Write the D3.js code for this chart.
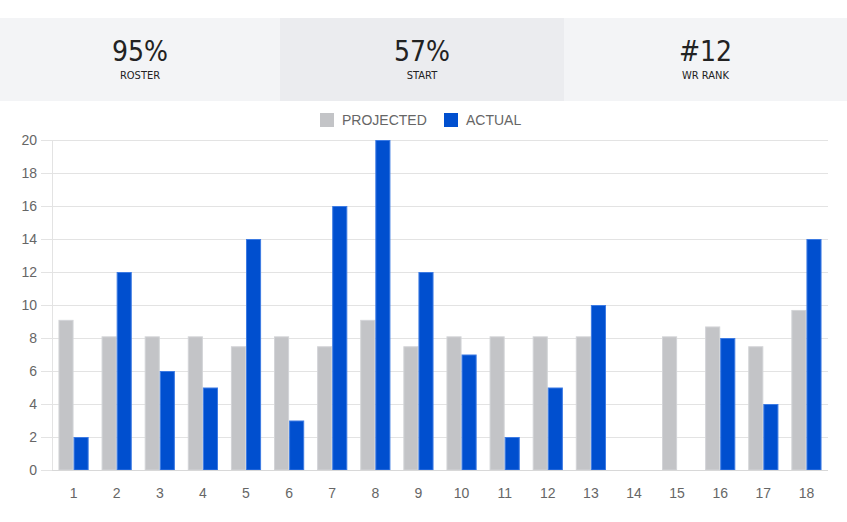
<!DOCTYPE html>
<html>
<head>
<meta charset="utf-8">
<script src="https://cdn.jsdelivr.net/npm/d3@7"></script>
<style>
  body { margin: 0; background: #fff; }
  #chart { display: block; }
</style>
</head>
<body>
<svg id="chart"></svg>
<script>
// header stats
var statValues = ["95%", "57%", "#12"];
var statLabels = ["ROSTER", "START", "WR RANK"];

// weekly data
var weeks = ["1","2","3","4","5","6","7","8","9","10","11","12","13","14","15","16","17","18"];
var projected = [9.1, 8.1, 8.1, 8.1, 7.5, 8.1, 7.5, 9.1, 7.5, 8.1, 8.1, 8.1, 8.1, 0, 8.1, 8.7, 7.5, 9.7];
var actual = [2, 12, 6, 5, 14, 3, 16, 20, 12, 7, 2, 5, 10, 0, 0, 8, 4, 14];
var seriesNames = ["PROJECTED", "ACTUAL"];
var yTicks = [0, 2, 4, 6, 8, 10, 12, 14, 16, 18, 20];

var w = 847, h = 522;
var fills = ["#c3c4c7", "#004fcf"];
var strokes = ["#d3d4d7", "#3d7be3"];

var svg = d3.select("#chart").attr("width", w).attr("height", h);

// header panels
var panelEdges = [0, 280, 564, w];
var panelBg = ["#f3f4f6", "#ebecef", "#f3f4f6"];
var condensed = "'DejaVu Sans Condensed', 'DejaVu Sans', sans-serif";
statValues.forEach(function(v, i) {
	var x0 = panelEdges[i], x1 = panelEdges[i + 1];
	svg.append("rect")
		.attr("x", x0).attr("y", 18)
		.attr("width", x1 - x0).attr("height", 83)
		.attr("fill", panelBg[i]);
	svg.append("text")
		.attr("x", (x0 + x1) / 2).attr("y", 61)
		.attr("text-anchor", "middle")
		.attr("font-family", condensed)
		.attr("font-stretch", "condensed")
		.attr("font-size", 28)
		.attr("fill", "#222")
		.text(v);
	svg.append("text")
		.attr("x", (x0 + x1) / 2).attr("y", 79)
		.attr("text-anchor", "middle")
		.attr("font-family", condensed)
		.attr("font-stretch", "condensed")
		.attr("font-size", 11)
		.attr("fill", "#222")
		.text(statLabels[i]);
});

// chart area
var plotLeft = 52, plotRight = 828, plotTop = 140, plotBottom = 470;

var xScale = d3.scaleBand()
	.domain(weeks)
	.range([plotLeft, plotRight])
	.paddingInner(0.3)
	.paddingOuter(0.15);

var xSub = d3.scaleBand()
	.domain([0, 1])
	.range([0, xScale.bandwidth()]);

var yScale = d3.scaleLinear()
	.domain([0, 20])
	.range([plotBottom, plotTop]);

// gridlines + y axis
var yAxis = d3.axisLeft(yScale)
	.tickValues(yTicks)
	.tickSize(-(plotRight - plotLeft) - 11)
	.tickSizeOuter(0)
	.tickPadding(4);

var gy = svg.append("g")
	.attr("transform", "translate(" + (plotLeft - 11) + ",0)")
	.call(yAxis);
gy.select(".domain").remove();
gy.selectAll(".tick line").attr("stroke", "#e3e3e3");
gy.selectAll(".tick text")
	.attr("font-family", "Arial, 'Liberation Sans', sans-serif")
	.attr("font-size", 14)
	.attr("fill", "#666");

// y axis line
svg.append("line")
	.attr("x1", plotLeft + 0.5).attr("x2", plotLeft + 0.5)
	.attr("y1", plotTop).attr("y2", plotBottom)
	.attr("stroke", "#e3e3e3");

// bars
var seriesData = [projected, actual];
seriesData.forEach(function(data, s) {
	svg.append("g")
		.selectAll("rect")
		.data(data.map(function(d, i) { return {week: weeks[i], value: d}; })
			.filter(function(d) { return d.value > 0; }))
		.join("rect")
		.attr("x", function(d) { return xScale(d.week) + xSub(s) + 0.5; })
		.attr("y", function(d) { return yScale(d.value) + 0.5; })
		.attr("width", xSub.bandwidth() - 1)
		.attr("height", function(d) { return yScale(0) - yScale(d.value) - 0.5; })
		.attr("fill", fills[s])
		.attr("stroke", strokes[s])
		.attr("stroke-width", 1);
});

// x axis baseline
svg.append("line")
	.attr("x1", plotLeft).attr("x2", plotRight)
	.attr("y1", plotBottom + 0.5).attr("y2", plotBottom + 0.5)
	.attr("stroke", "#d8d8d8");

var xAxis = d3.axisBottom(xScale).tickSize(0).tickPadding(18);
var gx = svg.append("g")
	.attr("transform", "translate(0," + plotBottom + ")")
	.call(xAxis);
gx.select(".domain").remove();
gx.selectAll(".tick text")
	.attr("font-family", "Arial, 'Liberation Sans', sans-serif")
	.attr("font-size", 14)
	.attr("fill", "#666");

// legend
var legendX = [320, 444];
seriesNames.forEach(function(name, i) {
	svg.append("rect")
		.attr("x", legendX[i]).attr("y", 113)
		.attr("width", 14).attr("height", 14)
		.attr("fill", fills[i]);
	svg.append("text")
		.attr("x", legendX[i] + 22).attr("y", 125)
		.attr("font-family", "Arial, 'Liberation Sans', sans-serif")
		.attr("font-size", 14)
		.attr("fill", "#666")
		.text(name);
});
</script>
</body>
</html>
